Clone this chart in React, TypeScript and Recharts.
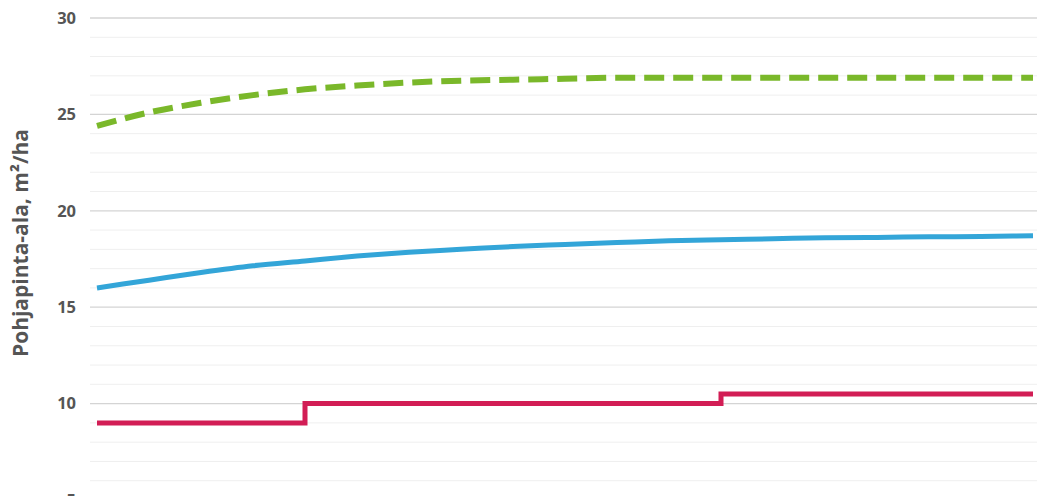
import { CartesianGrid, Line, LineChart, ReferenceLine, XAxis, YAxis } from "recharts";

// vuodet (x), 5 v välein
const years = [0, 5, 10, 15, 20, 25, 30, 35, 40, 45, 50, 55, 60, 65, 70, 75, 80, 85, 90];
const greenSeries = [24.4, 25.1, 25.6, 26.0, 26.3, 26.5, 26.65, 26.75, 26.8, 26.85, 26.9, 26.9, 26.9, 26.9, 26.9, 26.9, 26.9, 26.9, 26.9];
const blueSeries = [16.0, 16.4, 16.8, 17.15, 17.4, 17.65, 17.85, 18.0, 18.15, 18.25, 18.35, 18.45, 18.5, 18.55, 18.6, 18.62, 18.65, 18.67, 18.7];
const redSeries = [9, 9, 9, 9, 10, 10, 10, 10, 10, 10, 10, 10, 10.5, 10.5, 10.5, 10.5, 10.5, 10.5, 10.5];

const majorTicks = [5, 10, 15, 20, 25, 30];
const minorTicks = [6, 7, 8, 9, 11, 12, 13, 14, 16, 17, 18, 19, 21, 22, 23, 24, 26, 27, 28, 29];

const data = years.map((x, i) => ({
  x,
  green: greenSeries[i],
  blue: blueSeries[i],
  red: redSeries[i],
}));

const FONT = "'Open Sans', sans-serif";

export default function App() {
  return (
    <div style={{ position: "absolute", left: 0, top: 0, fontFamily: FONT }}>
      <LineChart width={1040} height={560} data={data} margin={{ top: 18, right: 0, bottom: 60, left: 0 }}>
        {minorTicks.map((v) => (
          <ReferenceLine key={v} y={v} stroke="#efefef" strokeWidth={1} />
        ))}
        <CartesianGrid vertical={false} stroke="#d4d4d4" strokeWidth={1.3} />
        <XAxis dataKey="x" type="number" domain={[0, 90]} hide padding={{ left: 7, right: 7 }} />
        <YAxis
          domain={[5, 30]}
          ticks={majorTicks}
          width={90}
          axisLine={false}
          tickLine={false}
          tickMargin={8}
          tick={{ fill: "#555", fontSize: 16.5, fontWeight: 700, fontFamily: FONT }}
          label={{
            value: "Pohjapinta-ala, m²/ha",
            angle: -90,
            position: "insideLeft",
            dx: 16,
            dy: -16,
            style: { fill: "#555", fontSize: 21, fontWeight: 700, fontFamily: FONT, textAnchor: "middle" },
          }}
        />
        <Line
          dataKey="green"
          type="monotone"
          stroke="#7ab82a"
          strokeWidth={6}
          strokeDasharray="20 9"
          dot={false}
          isAnimationActive={false}
        />
        <Line dataKey="blue" type="monotone" stroke="#33a5d8" strokeWidth={5} dot={false} isAnimationActive={false} />
        <Line dataKey="red" type="stepAfter" stroke="#d21d55" strokeWidth={5} dot={false} isAnimationActive={false} />
      </LineChart>
    </div>
  );
}
